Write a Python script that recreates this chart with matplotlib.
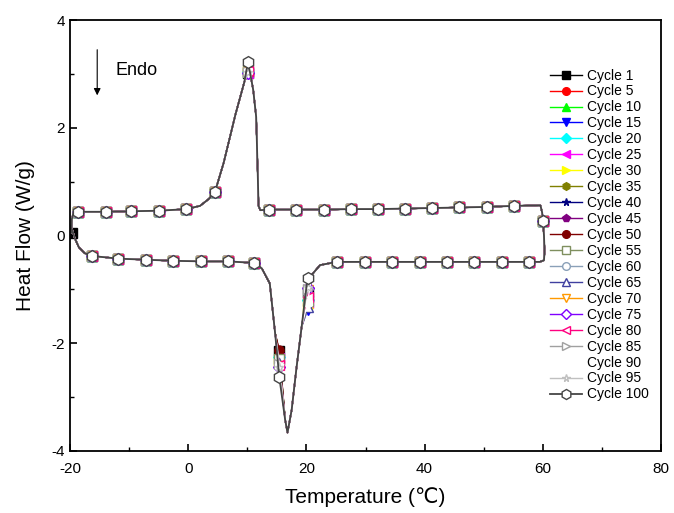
import matplotlib
matplotlib.use('Agg')
import matplotlib.pyplot as plt
from matplotlib.ticker import MultipleLocator

plt.rcParams['font.family'] = ['Liberation Sans', 'DejaVu Sans']
plt.rcParams['axes.unicode_minus'] = False

# cycles and their styles
cycles = [1, 5, 10, 15, 20, 25, 30, 35, 40, 45, 50, 55, 60, 65, 70, 75, 80, 85, 90, 95, 100]
colores = ['#000000', '#ff0000', '#00ff00', '#0000ff', '#00ffff', '#ff00ff', '#ffff00',
           '#808000', '#000080', '#800080', '#800000', '#7f8f5f', '#8aa0b8', '#4040a0',
           '#ff9900', '#8000ff', '#ff0080', '#a0a0a0', '#ffffff', '#c0c0c0', '#454545']
marcadores = ['s', 'o', '^', 'v', 'D', '<', '>', 'h', '*', 'p', 'o',
              's', 'o', '^', 'v', 'D', '<', '>', 'h', '*', 'h']
rellenos = [True] * 11 + [False] * 10

# heating branch (upper curve), temperature in C and heat flow in W/g
heat_T = [-19.75, -19.7, -19.4, -18.6, -13.9, -9.6, -4.9, -0.3, 2.0, 3.5, 4.5, 6.0, 8.0,
          9.5, 10.1, 10.5, 11.0, 11.5, 11.75, 11.9, 12.2, 13.7, 18.3, 22.9, 27.5, 32.1,
          36.7, 41.3, 45.9, 50.5, 55.2, 59.6, 59.9, 60.0]
heat_hf = [0.05, 0.30, 0.43, 0.44, 0.44, 0.45, 0.46, 0.49, 0.55, 0.68, 0.80, 1.35, 2.25,
           2.85, None, 3.00, 2.70, 2.20, 1.20, 0.55, 0.47, 0.48, 0.48, 0.48, 0.49, 0.49,
           0.50, 0.51, 0.52, 0.53, 0.55, 0.56, 0.42, 0.27]
heat_marks = [3, 4, 5, 6, 7, 10, 14, 21, 22, 23, 24, 25, 26, 27, 28, 29, 30, 33]

# cooling branch (lower curve)
cool_T = [60.2, 60.3, 60.2, 59.5, 57.7, 53.1, 48.4, 43.8, 39.2, 34.5, 29.9, 25.1, 22.3,
          20.9, 20.2, 19.2, 18.35, 17.5, 16.8, 16.4, 15.4, 14.7, 13.8, 12.5, 11.8, 11.1,
          6.8, 2.1, -2.5, -7.1, -11.8, -16.3, -17.5, -18.5, -19.2, -19.6]
cool_hf = [0.0, -0.3, -0.46, -0.49, -0.49, -0.49, -0.49, -0.49, -0.49, -0.49, -0.49,
           -0.49, -0.55, -0.73, None, -1.69, -2.43, -3.24, -3.66, -3.42, None, -1.81,
           -0.89, -0.62, -0.55, -0.51, -0.48, -0.48, -0.47, -0.45, -0.43, -0.38, -0.33,
           -0.22, -0.05, 0.10]
cool_marks = [4, 5, 6, 7, 8, 9, 10, 11, 14, 20, 25, 26, 27, 28, 29, 30, 31]

# values that change from cycle to cycle
pico = [3.02, 3.05, 3.03, 3.06, 3.04, 3.02, 3.05, 3.03, 3.06, 3.04, 3.02,
        3.05, 3.03, 3.06, 3.04, 3.02, 3.05, 3.03, 3.06, 3.04, 3.22]
flanco_der = [-1.05, -1.30, -1.15, -1.38, -1.20, -1.25, -1.35, -1.10, -1.28, -1.18, -1.12,
              -1.22, -1.08, -1.32, -1.02, -0.98, -1.15, -1.00, -1.25, -0.95, -0.78]
flanco_izq = [-2.15, -2.30, -2.20, -2.38, -2.25, -2.28, -2.35, -2.18, -2.32, -2.22, -2.12,
              -2.30, -2.40, -2.36, -2.42, -2.44, -2.40, -2.38, -2.42, -2.45, -2.62]

fig = plt.figure(figsize=(6.74, 5.13), dpi=100)
ax = fig.add_axes([0.1039, 0.1209, 0.8768, 0.8401])

n_heat = len(heat_T)
for i, c in enumerate(cycles):
    h = list(heat_hf)
    h[14] = pico[i]
    k = list(cool_hf)
    k[14] = flanco_der[i]
    k[20] = flanco_izq[i]
    xs = heat_T + cool_T
    ys = h + k
    marks = heat_marks + [n_heat + m for m in cool_marks]
    if c == 1:
        marks = [0] + marks
    col = colores[i]
    if rellenos[i]:
        mfc, mec = col, col
    else:
        mfc, mec = 'white', col
    ms = 8.5 if c == 100 else 6.5
    lw = 1.3 if c == 100 else 1.0
    ax.plot(xs, ys, color=col, lw=lw, marker=marcadores[i], markevery=marks,
            markersize=ms, markerfacecolor=mfc, markeredgecolor=mec, markeredgewidth=1.0,
            label='Cycle %d' % c)

ax.set_xlim(-20, 80)
ax.set_ylim(-4, 4)
ax.xaxis.set_major_locator(MultipleLocator(20))
ax.xaxis.set_minor_locator(MultipleLocator(10))
ax.yaxis.set_major_locator(MultipleLocator(2))
ax.yaxis.set_minor_locator(MultipleLocator(1))
ax.tick_params(which='both', direction='in', top=False, right=False, labelsize=11)
ax.tick_params(which='major', length=5, width=1.2)
ax.tick_params(which='minor', length=3, width=1.0)
ax.tick_params(axis='x', pad=8)
for s in ax.spines.values():
    s.set_linewidth(1.3)

ax.set_xlabel('Temperature (℃)', fontsize=15, labelpad=8)
ax.set_ylabel('Heat Flow (W/g)', fontsize=15, labelpad=12)

ax.annotate('', xy=(-15.4, 2.55), xytext=(-15.4, 3.5),
            arrowprops=dict(arrowstyle='-|>', color='black', lw=0.8, mutation_scale=10))
ax.text(-12.3, 3.07, 'Endo', fontsize=13, va='center', ha='left')

ax.legend(loc='upper left', bbox_to_anchor=(0.795, 0.91), frameon=False, fontsize=10,
          labelspacing=0.14, handlelength=2.3, handletextpad=0.4, borderpad=0.2,
          markerscale=0.85)

plt.savefig('out.png', dpi=100)
